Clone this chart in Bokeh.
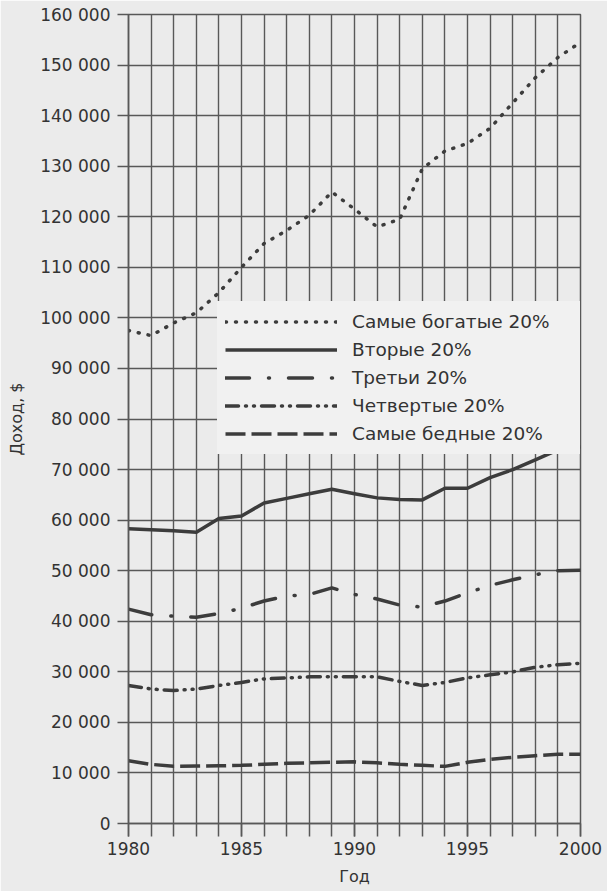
from bokeh.plotting import figure
from bokeh.models import (Legend, LegendItem, SingleIntervalTicker,
                          CustomJSTickFormatter, Range1d)
from bokeh.embed import file_html
from bokeh.resources import INLINE

# ---- data (income, $) ----
years = list(range(1980, 2001))
richest = [97500, 96500, 99000, 101000, 105000, 110000, 114700, 117300, 120300, 124900,
           121500, 118000, 119500, 129500, 133000, 134500, 137500, 142500, 147500, 151500, 154500]
second = [58300, 58100, 57900, 57600, 60300, 60800, 63400, 64300, 65200, 66100,
          65200, 64400, 64100, 64000, 66300, 66300, 68400, 70000, 71900, 73900, 74500]
third = [42400, 41300, 41000, 40800, 41500, 42600, 44000, 45000, 45300, 46600,
         45300, 44400, 43200, 42800, 44000, 45600, 47100, 48200, 49200, 50000, 50100]
fourth = [27300, 26600, 26300, 26600, 27300, 27900, 28600, 28800, 29000, 29000,
          29000, 29000, 28100, 27300, 27900, 28800, 29400, 30000, 30900, 31400, 31700]
poorest = [12400, 11700, 11300, 11350, 11400, 11500, 11700, 11900, 12000, 12100,
           12200, 12000, 11700, 11500, 11300, 12100, 12700, 13100, 13400, 13700, 13700]

series_labels = ["Самые богатые 20%", "Вторые 20%", "Третьи 20%",
                 "Четвертые 20%", "Самые бедные 20%"]
series_values = [richest, second, third, fourth, poorest]
x_title = "Год"
y_title = "Доход, $"

# ---- styles ----
paper = "#ebebeb"
ink = "#3c3c3c"
grid = "#585858"
txt = "#333333"
font = "DejaVu Sans"
dashes = ["1 9", "solid", "24 19 1 19", "13 7 1 7 1 7", "20 6"]
caps = ["round", "butt", "round", "round", "butt"]

p = figure(width=607, height=891, output_backend="svg", toolbar_location=None,
           x_range=Range1d(1980, 2000), y_range=Range1d(0, 160000),
           min_border_left=128, min_border_right=27, min_border_top=14,
           min_border_bottom=68,
           background_fill_color=paper, border_fill_color=paper)

p.outline_line_color = grid
p.outline_line_width = 1.5

# grids
p.xgrid.ticker = SingleIntervalTicker(interval=1)
p.ygrid.ticker = SingleIntervalTicker(interval=10000)
for g in (p.xgrid, p.ygrid):
    g.grid_line_color = grid
    g.grid_line_width = 1.4
    g.grid_line_alpha = 1

# axes
p.xaxis.ticker = SingleIntervalTicker(interval=5, num_minor_ticks=5)
p.yaxis.ticker = SingleIntervalTicker(interval=10000, num_minor_ticks=0)
p.yaxis.formatter = CustomJSTickFormatter(
    code=r"return tick.toFixed(0).replace(/\B(?=(\d{3})+(?!\d))/g, ' ');")
for ax in (p.xaxis, p.yaxis):
    ax.axis_line_color = grid
    ax.axis_line_width = 1.5
    ax.major_tick_line_color = grid
    ax.major_tick_line_width = 1.5
    ax.minor_tick_line_color = grid
    ax.minor_tick_line_width = 1.5
    ax.major_tick_in = 0
    ax.minor_tick_in = 0
    ax.major_label_text_font = font
    ax.major_label_text_font_size = "17px"
    ax.major_label_text_color = txt
    ax.axis_label_text_font = font
    ax.axis_label_text_font_size = "16px"
    ax.axis_label_text_font_style = "normal"
    ax.axis_label_text_color = txt

p.xaxis.major_tick_out = 13
p.xaxis.minor_tick_out = 13
p.xaxis.major_label_standoff = 5
p.xaxis.axis_label_standoff = 9
p.xaxis.axis_label = x_title

p.yaxis.major_tick_out = 11
p.yaxis.major_label_standoff = 7
p.yaxis.axis_label_standoff = 11
p.yaxis.axis_label = y_title

items = []
for lab, vals, d, c in zip(series_labels, series_values, dashes, caps):
    r = p.line(years, vals, line_color=ink, line_width=3.5, line_dash=d,
               line_cap=c, line_join="round")
    items.append(LegendItem(label=lab, renderers=[r]))

legend = Legend(items=items, location=(89, 369), padding=8, spacing=3,
                glyph_width=112, glyph_height=25, label_height=25,
                label_width=220, label_standoff=15, margin=0,
                label_text_font=font, label_text_font_size="18.5px",
                label_text_color=txt,
                background_fill_color="#f1f1f1", background_fill_alpha=1,
                border_line_alpha=0)
p.add_layout(legend)

open("out.html", "w").write(file_html(p, INLINE))
